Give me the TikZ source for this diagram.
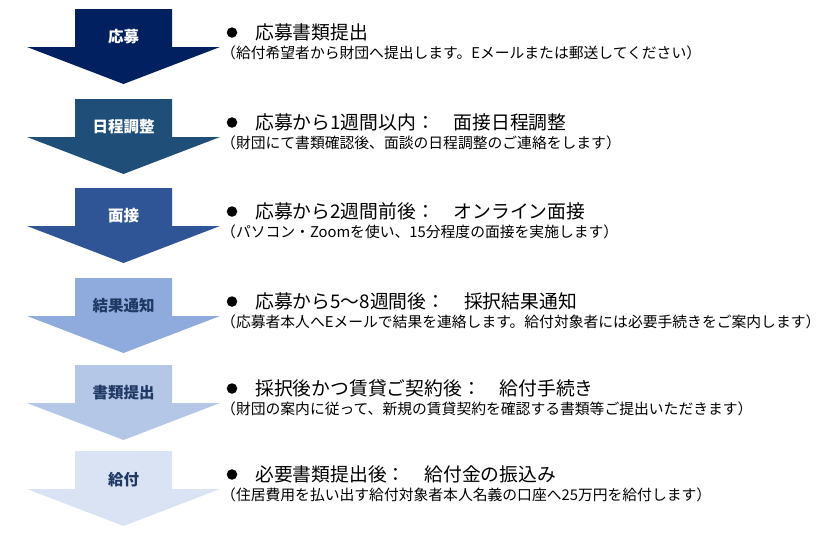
\documentclass[tikz,border=0pt]{standalone}
\usepackage{fontspec}
\newfontfamily\jpfont{Noto Sans CJK JP}
\usetikzlibrary{positioning}

\definecolor{stepA}{HTML}{002060}
\definecolor{stepB}{HTML}{1F4E79}
\definecolor{stepC}{HTML}{2F5597}
\definecolor{stepD}{HTML}{8FAADC}
\definecolor{stepE}{HTML}{B4C7E7}
\definecolor{stepF}{HTML}{DAE3F3}
\definecolor{navytext}{HTML}{1F3864}

% down arrow: colour, top edge
\newcommand{\flowarrow}[2]{\fill[#1] (75,#2) -- ++(97,0) -- ++(0,38) -- ++(48,0) -- ++(-96.5,37) -- ++(-96.5,-37) -- ++(48,0) -- cycle;}

\begin{document}
\begin{tikzpicture}[x=1pt, y=-1pt,
  steplabel/.style={inner sep=0, font=\jpfont\bfseries\fontsize{15.5}{16}\selectfont},
  headtext/.style={anchor=base west, inner sep=0, font=\jpfont\fontsize{18.8}{20}\selectfont},
  subtext/.style={anchor=base west, inner sep=0, font=\jpfont\fontsize{14.8}{16}\selectfont},
  bullet/.style={circle, fill=black, minimum size=10.5pt, inner sep=0}]
\useasboundingbox (0,0) rectangle (833,536);

\flowarrow{stepA}{9}
\flowarrow{stepB}{99}
\flowarrow{stepC}{188}
\flowarrow{stepD}{278}
\flowarrow{stepE}{365}
\flowarrow{stepF}{451}

\node[steplabel, text=white] (s1) at (123.5,37) {応募};
\node[steplabel, text=white] (s2) at (123.5,127) {日程調整};
\node[steplabel, text=white] (s3) at (123.5,216) {面接};
\node[steplabel, text=navytext] (s4) at (123.5,306) {結果通知};
\node[steplabel, text=navytext] (s5) at (123.5,393) {書類提出};
\node[steplabel, text=navytext] (s6) at (123.5,480) {給付};

\node[bullet] (b1) at (232,32.5) {};
\node[bullet] (b2) at (232,122.5) {};
\node[bullet] (b3) at (232,211.5) {};
\node[bullet] (b4) at (232,301.5) {};
\node[bullet] (b5) at (232,388.5) {};
\node[bullet] (b6) at (232,474.5) {};

\node[headtext] (h1) at (255,39) {応募書類提出};
\node[headtext] (h2) at (255,129) {応募から1週間以内：　面接日程調整};
\node[headtext] (h3) at (255,218) {応募から2週間前後：　オンライン面接};
\node[headtext] (h4) at (255,308) {応募から5～8週間後：　採択結果通知};
\node[headtext] (h5) at (255,395) {採択後かつ賃貸ご契約後：　給付手続き};
\node[headtext] (h6) at (255,481) {必要書類提出後：　給付金の振込み};

\node[subtext] (t1) at (221,58) {（給付希望者から財団へ提出します。Eメールまたは郵送してください）};
\node[subtext] (t2) at (221,148) {（財団にて書類確認後、面談の日程調整のご連絡をします）};
\node[subtext] (t3) at (221,237) {（パソコン・Zoomを使い、15分程度の面接を実施します）};
\node[subtext] (t4) at (221,327) {（応募者本人へEメールで結果を連絡します。給付対象者には必要手続きをご案内します）};
\node[subtext] (t5) at (221,414) {（財団の案内に従って、新規の賃貸契約を確認する書類等ご提出いただきます）};
\node[subtext] (t6) at (221,500) {（住居費用を払い出す給付対象者本人名義の口座へ25万円を給付します）};
\end{tikzpicture}
\end{document}
